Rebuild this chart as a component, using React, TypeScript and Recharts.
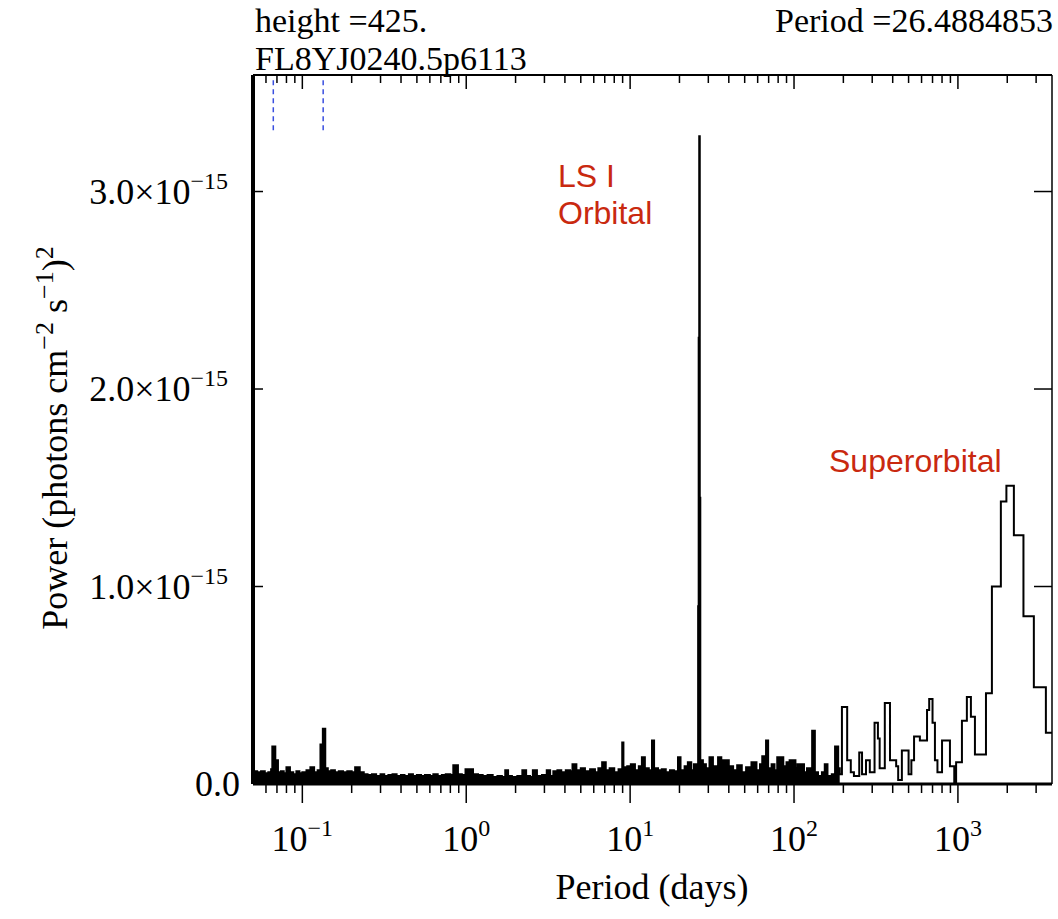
import React from "react";
import {
  ComposedChart,
  Line,
  Area,
  XAxis,
  YAxis,
  ReferenceLine,
} from "recharts";

// periodogram trace, [period in days, power in 1e-15 (photons cm^-2 s^-1)^2]
const noiseShort: [number, number][] = [
  [0.05, 0.065], [0.053, 0.06], [0.056, 0.065], [0.059, 0.055], [0.062, 0.06],
  [0.0645, 0.075], [0.0656, 0.19], [0.0684, 0.12], [0.071, 0.06], [0.074, 0.065],
  [0.077, 0.055], [0.08, 0.085], [0.084, 0.06], [0.088, 0.05], [0.092, 0.065],
  [0.096, 0.055], [0.1, 0.06], [0.106, 0.07], [0.112, 0.085], [0.118, 0.06],
  [0.124, 0.07], [0.129, 0.2], [0.1334, 0.28], [0.138, 0.08], [0.143, 0.065],
  [0.15, 0.07], [0.158, 0.06], [0.167, 0.065], [0.177, 0.06], [0.188, 0.065],
  [0.2, 0.06], [0.21, 0.085], [0.224, 0.06], [0.237, 0.05], [0.25, 0.045],
  [0.266, 0.05], [0.282, 0.04], [0.3, 0.05], [0.316, 0.04], [0.335, 0.045],
  [0.355, 0.05], [0.376, 0.04], [0.4, 0.045], [0.42, 0.04], [0.447, 0.05],
  [0.473, 0.04], [0.5, 0.045], [0.53, 0.04], [0.56, 0.045], [0.6, 0.04],
  [0.63, 0.05], [0.67, 0.04], [0.71, 0.045], [0.75, 0.05], [0.8, 0.045],
  [0.834, 0.095], [0.89, 0.05], [0.94, 0.045], [0.99, 0.075],
];

const noiseMid: [number, number][] = [
  [1.1, 0.05], [1.18, 0.045], [1.26, 0.04], [1.35, 0.045], [1.45, 0.035],
  [1.55, 0.04], [1.65, 0.035], [1.73, 0.07], [1.8, 0.04], [1.9, 0.035],
  [2.05, 0.04], [2.2, 0.07], [2.32, 0.04], [2.45, 0.035], [2.55, 0.07],
  [2.7, 0.04], [2.9, 0.045], [3.1, 0.07], [3.25, 0.04], [3.4, 0.065],
  [3.6, 0.07], [3.8, 0.06], [4.05, 0.07], [4.3, 0.065], [4.45, 0.1],
  [4.7, 0.07], [5.0, 0.08], [5.3, 0.065], [5.7, 0.075], [6.1, 0.06],
  [6.4, 0.08], [6.75, 0.11], [7.1, 0.07], [7.5, 0.08], [8.0, 0.06],
  [8.5, 0.075], [8.95, 0.21], [9.1, 0.085], [9.6, 0.09], [10.1, 0.1],
  [10.7, 0.07], [11.3, 0.09], [11.8, 0.135], [12.3, 0.08], [13.0, 0.07],
  [13.6, 0.22], [14.0, 0.08], [14.8, 0.07], [15.6, 0.075], [16.5, 0.06],
  [17.5, 0.07], [18.5, 0.065], [19.6, 0.135], [20.3, 0.07], [21.5, 0.09],
  [22.5, 0.11], [23.6, 0.07], [24.5, 0.1], [25.3, 0.08],
];

// LS I +61 303 orbital period, 26.49 d
const orbitalPeak: [number, number][] = [
  [26.0, 0.9], [26.2, 2.26], [26.4, 3.28], [26.6, 1.45], [26.8, 0.12],
];

const noiseLong: [number, number][] = [
  [27.8, 0.1], [29.0, 0.08], [30.5, 0.135], [32.0, 0.09], [34.4, 0.135],
  [36.0, 0.08], [37.0, 0.12], [40.0, 0.09], [42.5, 0.07], [45.0, 0.095],
  [48.0, 0.06], [51.0, 0.085], [55.0, 0.11], [59.0, 0.07], [62.0, 0.1],
  [64.0, 0.14], [67.5, 0.22], [69.5, 0.08], [73.0, 0.1], [76.0, 0.07],
  [79.0, 0.135], [86.0, 0.09], [90.0, 0.11], [94.0, 0.12], [102, 0.08],
  [105, 0.1], [115, 0.06], [120, 0.08], [129, 0.27], [134, 0.06],
  [140, 0.04], [148, 0.06], [154, 0.1], [160, 0.04], [170, 0.05],
  [178, 0.19], [186, 0.08], [190, 0.05], [196, 0.39], [211, 0.12],
  [222, 0.06], [232, 0.04], [250, 0.16], [260, 0.05], [275, 0.12],
  [290, 0.06], [310, 0.31], [325, 0.23], [333, 0.08], [358, 0.41],
  [385, 0.12], [420, 0.09], [432, 0.02], [455, 0.17], [500, 0.05],
  [520, 0.12], [540, 0.24], [586, 0.22], [648, 0.375], [668, 0.43],
  [700, 0.31], [724, 0.12], [750, 0.06], [800, 0.22], [894, 0.09],
  [950, 0.0], [975, 0.11],
];

const superorbitalSteps: [number, number][] = [
  [1058, 0.32], [1134, 0.44], [1200, 0.34], [1270, 0.15], [1483, 0.46],
  [1612, 1.0], [1828, 1.43], [1976, 1.51], [2195, 1.26], [2511, 0.85],
  [2906, 0.49], [3441, 0.26], [3750, 0.26],
];

const majorTicks = [0.1, 1, 10, 100, 1000];
const majorExponents = ["−1", "0", "1", "2", "3"];
const minorTicks = [
  0.06, 0.07, 0.08, 0.09, 0.2, 0.3, 0.4, 0.5, 0.6, 0.7, 0.8, 0.9,
  2, 3, 4, 5, 6, 7, 8, 9, 20, 30, 40, 50, 60, 70, 80, 90,
  200, 300, 400, 500, 600, 700, 800, 900, 2000, 3000,
];
const powerTicks = [0, 1, 2, 3];
const samplingPeriods = [0.0665, 0.134];

const PERIOD_DOMAIN: [number, number] = [0.05, 3750];
const POWER_DOMAIN: [number, number] = [0, 3.59];
const FILLED_BELOW = 190;
const SERIF = "'Liberation Serif', 'DejaVu Serif', serif";
const SANS = "'Liberation Sans', Arial, sans-serif";
const RED = "#c9290f";

const trace = [
  ...noiseShort,
  ...noiseMid,
  ...orbitalPeak,
  ...noiseLong,
  ...superorbitalSteps,
].map(([period, power]) => ({
  period,
  power,
  band: period <= FILLED_BELOW ? power : null,
}));

const periodTicks = [...majorTicks, ...minorTicks].sort((a, b) => a - b);

function BottomTick(props: any) {
  const { x, y, payload } = props;
  const i = majorTicks.indexOf(payload.value);
  const major = i >= 0;
  return (
    <g>
      <line x1={x} x2={x} y1={y} y2={y + (major ? 19 : 9)} stroke="#000" strokeWidth={1.5} />
      {major && (
        <text x={x} y={y + 67} textAnchor="middle" fontFamily={SERIF} fontSize={36} fill="#000">
          10
          <tspan dy={-15} fontSize={24}>
            {majorExponents[i]}
          </tspan>
        </text>
      )}
    </g>
  );
}

function TopTick(props: any) {
  const { x, y, payload } = props;
  const major = majorTicks.includes(payload.value);
  return <line x1={x} x2={x} y1={y} y2={y + (major ? 14 : 8)} stroke="#000" strokeWidth={1.5} />;
}

function LeftTick(props: any) {
  const { x, y, payload } = props;
  const v = payload.value;
  return (
    <g>
      {v > 0 && <line x1={x} x2={x + 10} y1={y} y2={y} stroke="#000" strokeWidth={1.5} />}
      {v === 0 ? (
        <text x={x - 13} y={y + 12} textAnchor="end" fontFamily={SERIF} fontSize={36} fill="#000">
          0.0
        </text>
      ) : (
        <text x={x - 25} y={y + 12} textAnchor="end" fontFamily={SERIF} fontSize={36} fill="#000">
          {v}.0×10
          <tspan dy={-15} fontSize={24}>
            −15
          </tspan>
        </text>
      )}
    </g>
  );
}

function RightTick(props: any) {
  const { x, y, payload } = props;
  if (payload.value === 0) return null;
  return <line x1={x} x2={x - 18} y1={y} y2={y} stroke="#000" strokeWidth={1.5} />;
}

export default function App() {
  return (
    <div
      style={{
        position: "absolute",
        left: 0,
        top: 0,
        width: 1058,
        height: 919,
        background: "#fff",
      }}
    >
      <ComposedChart
        width={1058}
        height={919}
        data={trace}
        margin={{ top: 45, right: 0, bottom: 75, left: 80 }}
      >
        <XAxis
          xAxisId="bottom"
          dataKey="period"
          type="number"
          scale="log"
          domain={PERIOD_DOMAIN}
          allowDataOverflow
          ticks={periodTicks}
          interval={0}
          tickSize={0}
          tickMargin={0}
          tickLine={false}
          tick={(p: any) => <BottomTick {...p} />}
          axisLine={{ stroke: "#000", strokeWidth: 3 }}
          height={60}
        />
        <XAxis
          xAxisId="top"
          orientation="top"
          dataKey="period"
          type="number"
          scale="log"
          domain={PERIOD_DOMAIN}
          allowDataOverflow
          ticks={periodTicks}
          interval={0}
          tickSize={0}
          tickMargin={0}
          tickLine={false}
          tick={(p: any) => <TopTick {...p} />}
          axisLine={{ stroke: "#000", strokeWidth: 2 }}
          height={30}
        />
        <YAxis
          yAxisId="left"
          type="number"
          domain={POWER_DOMAIN}
          allowDataOverflow
          ticks={powerTicks}
          interval={0}
          tickSize={0}
          tickMargin={0}
          tickLine={false}
          tick={(p: any) => <LeftTick {...p} />}
          axisLine={{ stroke: "#000", strokeWidth: 4 }}
          width={173}
        />
        <YAxis
          yAxisId="right"
          orientation="right"
          type="number"
          domain={POWER_DOMAIN}
          allowDataOverflow
          ticks={powerTicks}
          interval={0}
          tickSize={0}
          tickMargin={0}
          tickLine={false}
          tick={(p: any) => <RightTick {...p} />}
          axisLine={{ stroke: "#000", strokeWidth: 1.5 }}
          width={6}
        />
        <Area
          xAxisId="bottom"
          yAxisId="left"
          dataKey="band"
          type="stepAfter"
          stroke="none"
          fill="#000"
          fillOpacity={1}
          connectNulls={false}
          isAnimationActive={false}
        />
        <Line
          xAxisId="bottom"
          yAxisId="left"
          dataKey="power"
          type="stepAfter"
          stroke="#000"
          strokeWidth={2}
          dot={false}
          isAnimationActive={false}
        />
        {samplingPeriods.map((p) => (
          <ReferenceLine
            key={p}
            xAxisId="bottom"
            yAxisId="left"
            segment={[
              { x: p, y: 3.31 },
              { x: p, y: 3.565 },
            ]}
            stroke="#3a4fe0"
            strokeWidth={1.5}
            strokeDasharray="5 4"
          />
        ))}
      </ComposedChart>
      <svg
        width={1058}
        height={919}
        style={{ position: "absolute", left: 0, top: 0, pointerEvents: "none" }}
      >
        <g fontFamily={SERIF} fontSize={34} fill="#000">
          <text x={255} y={32}>height =425.</text>
          <text x={1053} y={32} textAnchor="end">Period =26.4884853</text>
          <text x={255} y={70}>FL8YJ0240.5p6113</text>
        </g>
        <g fontFamily={SERIF} fontSize={36} fill="#000">
          <text x={652} y={899} textAnchor="middle">Period (days)</text>
          <text transform="translate(67,438) rotate(-90)" textAnchor="middle">
            Power (photons cm
            <tspan dy={-14} fontSize={26}>−2</tspan>
            <tspan dy={14}> s</tspan>
            <tspan dy={-14} fontSize={26}>−1</tspan>
            <tspan dy={14}>)</tspan>
            <tspan dy={-14} fontSize={26}>2</tspan>
          </text>
        </g>
        <g fontFamily={SANS} fontSize={32} fill={RED}>
          <text x={558} y={187}>LS I</text>
          <text x={558} y={224}>Orbital</text>
          <text x={829} y={472}>Superorbital</text>
        </g>
      </svg>
    </div>
  );
}
